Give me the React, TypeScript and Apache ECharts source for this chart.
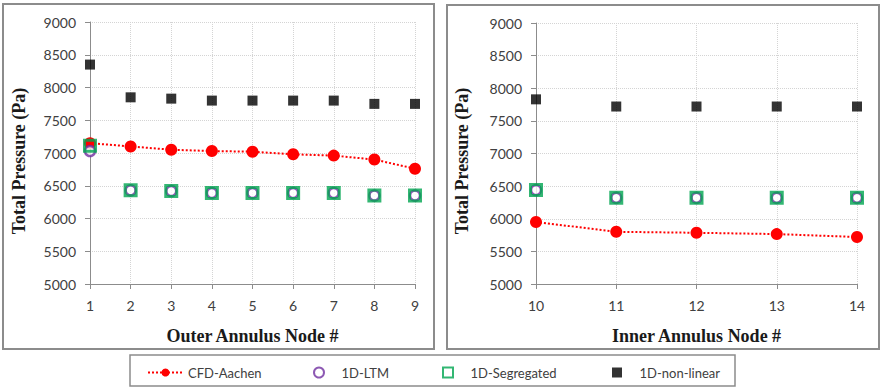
import React, { useEffect, useRef } from "react";
import * as echarts from "echarts";

const outerNodes = [1, 2, 3, 4, 5, 6, 7, 8, 9];
const innerNodes = [10, 11, 12, 13, 14];

const cfdOuter = [7150, 7100, 7050, 7030, 7020, 6980, 6960, 6900, 6760];
const ltmOuter = [7030, 6430, 6420, 6390, 6390, 6390, 6390, 6350, 6350];
const segOuter = [7110, 6430, 6420, 6390, 6390, 6390, 6390, 6350, 6350];
const nlOuter = [8350, 7850, 7830, 7800, 7800, 7800, 7800, 7750, 7750];

const cfdInner = [5950, 5800, 5785, 5765, 5720];
const ltmInner = [6440, 6320, 6320, 6320, 6320];
const segInner = [6440, 6320, 6320, 6320, 6320];
const nlInner = [7830, 7720, 7720, 7720, 7720];

const names = ["CFD-Aachen", "1D-LTM", "1D-Segregated", "1D-non-linear"];
const yTitle = "Total Pressure (Pa)";

const pair = (xs: number[], ys: number[]) => xs.map((x, i) => [x, ys[i]]);

const labelFont = "Lato, 'Open Sans', sans-serif";
const titleFont = "'Liberation Serif', 'DejaVu Serif', serif";
const squarePath = "path://M0,0L10,0L10,10L0,10Z";

export default function App() {
  const ref = useRef<HTMLDivElement>(null);
  useEffect(() => {
    if (!ref.current) return;
    const chart = echarts.init(ref.current, undefined, { renderer: "svg" });

    const xAxisBase = (gi: number, min: number, max: number, name: string) => ({
      type: "value",
      gridIndex: gi,
      min,
      max,
      interval: 1,
      name,
      nameLocation: "middle",
      nameGap: 43,
      nameTextStyle: { fontFamily: titleFont, fontWeight: "bold", fontSize: 18, color: "#1a1a1a" },
      axisLine: { show: true, lineStyle: { color: "#8c8c8c", width: 1 } },
      axisTick: { show: true, length: 5, lineStyle: { color: "#8c8c8c" } },
      axisLabel: { margin: 14, fontFamily: labelFont, fontSize: 14, color: "#404040" },
      splitLine: { show: true, lineStyle: { color: "#d4d4d4", type: "dotted", width: 1 } },
    });
    const yAxisBase = (gi: number) => ({
      type: "value",
      gridIndex: gi,
      min: 5000,
      max: 9000,
      interval: 500,
      axisLine: { show: true, lineStyle: { color: "#8c8c8c", width: 1 } },
      axisTick: { show: true, length: 5, lineStyle: { color: "#8c8c8c" } },
      axisLabel: {
        margin: 14,
        fontFamily: labelFont,
        fontSize: 14,
        color: "#404040",
        formatter: (v: number) => String(v),
      },
      splitLine: { show: true, lineStyle: { color: "#d4d4d4", type: "dotted", width: 1 } },
    });

    const cfdSeries = (gi: number, data: number[][]) => ({
      name: names[0],
      type: "line",
      xAxisIndex: gi,
      yAxisIndex: gi,
      data,
      symbol: "circle",
      symbolSize: 12,
      itemStyle: { color: "#ff0000" },
      lineStyle: { color: "#ff0000", type: "dotted", width: 2 },
      z: 2,
    });
    const ltmSeries = (gi: number, data: number[][]) => ({
      name: names[1],
      type: "scatter",
      xAxisIndex: gi,
      yAxisIndex: gi,
      data,
      symbol: "circle",
      symbolSize: 10,
      itemStyle: { color: "#ffffff", borderColor: "#7030a0", borderWidth: 2.5 },
      z: 3,
    });
    const segSeries = (gi: number, data: number[][]) => ({
      name: names[2],
      type: "scatter",
      xAxisIndex: gi,
      yAxisIndex: gi,
      data,
      symbol: "rect",
      symbolSize: 11,
      itemStyle: { color: "rgba(255,255,255,0)", borderColor: "#00a550", borderWidth: 3 },
      z: 4,
    });
    const nlSeries = (gi: number, data: number[][]) => ({
      name: names[3],
      type: "scatter",
      xAxisIndex: gi,
      yAxisIndex: gi,
      data,
      symbol: "rect",
      symbolSize: 10,
      itemStyle: { color: "#000000" },
      z: 5,
    });

    const legendAt = (name: string, left: number, icon?: string) => ({
      data: [icon ? { name, icon } : name],
      left,
      top: 366,
      padding: 0,
      itemWidth: 35,
      itemHeight: 10,
      itemGap: 0,
      symbolKeepAspect: true,
      textStyle: { fontFamily: labelFont, fontSize: 13, color: "#404040" },
      selectedMode: false,
    });

    chart.setOption({
      animation: false,
      backgroundColor: "#ffffff",
      graphic: [
        { type: "rect", shape: { x: 3, y: 4, width: 431, height: 345 }, style: { fill: "none", stroke: "#8c8c8c", lineWidth: 2 }, z: -1 },
        { type: "rect", shape: { x: 447, y: 5, width: 432, height: 344 }, style: { fill: "none", stroke: "#8c8c8c", lineWidth: 2 }, z: -1 },
        { type: "rect", shape: { x: 130, y: 355, width: 605, height: 31 }, style: { fill: "none", stroke: "#8c8c8c", lineWidth: 1.5 }, z: -1 },
        {
          type: "text",
          x: 19,
          y: 161,
          rotation: Math.PI / 2,
          style: { text: yTitle, font: `bold 18px ${titleFont}`, fill: "#1a1a1a", align: "center", verticalAlign: "middle" },
        },
        {
          type: "text",
          x: 462,
          y: 161,
          rotation: Math.PI / 2,
          style: { text: yTitle, font: `bold 18px ${titleFont}`, fill: "#1a1a1a", align: "center", verticalAlign: "middle" },
        },
      ],
      grid: [
        { left: 90, top: 22, width: 325, height: 262 },
        { left: 536, top: 23, width: 321, height: 261 },
      ],
      xAxis: [
        xAxisBase(0, 1, 9, "Outer Annulus Node #"),
        xAxisBase(1, 10, 14, "Inner Annulus Node #"),
      ],
      yAxis: [yAxisBase(0), yAxisBase(1)],
      legend: [
        legendAt(names[0], 147),
        legendAt(names[1], 313),
        legendAt(names[2], 442, squarePath),
        legendAt(names[3], 612, squarePath),
      ],
      series: [
        cfdSeries(0, pair(outerNodes, cfdOuter)),
        ltmSeries(0, pair(outerNodes, ltmOuter)),
        segSeries(0, pair(outerNodes, segOuter)),
        nlSeries(0, pair(outerNodes, nlOuter)),
        cfdSeries(1, pair(innerNodes, cfdInner)),
        ltmSeries(1, pair(innerNodes, ltmInner)),
        segSeries(1, pair(innerNodes, segInner)),
        nlSeries(1, pair(innerNodes, nlInner)),
      ],
    });
    return () => chart.dispose();
  }, []);
  return (
    <div
      ref={ref}
      style={{ position: "absolute", left: 0, top: 0, width: 881, height: 387 }}
    />
  );
}
